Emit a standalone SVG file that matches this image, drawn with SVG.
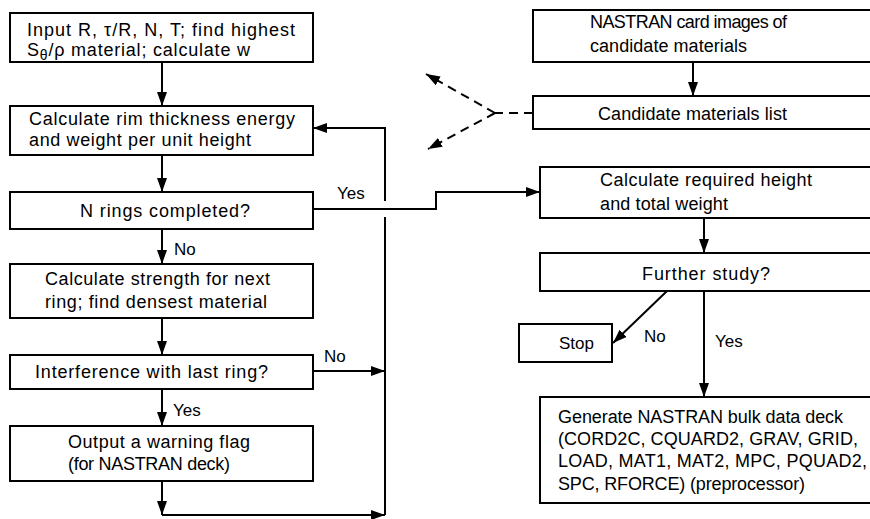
<svg xmlns="http://www.w3.org/2000/svg" width="870" height="519" viewBox="0 0 870 519">
<defs>
<marker id="ah" viewBox="0 0 14 10" refX="14" refY="5" markerWidth="14" markerHeight="10" markerUnits="userSpaceOnUse" orient="auto"><path d="M0,0 L14,5 L0,10 Z" fill="#000"/></marker>
<style>
.box{fill:#fff;stroke:#000;stroke-width:2}
.t{font-family:"Liberation Sans",Arial,sans-serif;font-size:18px;fill:#000}
.s{font-family:"Liberation Sans",Arial,sans-serif;font-size:17px;fill:#000}
.c{stroke:#000;stroke-width:2;fill:none}
.a{stroke:#000;stroke-width:2;fill:none;marker-end:url(#ah)}
.d{stroke:#000;stroke-width:2;fill:none;stroke-dasharray:9,6;marker-end:url(#ah)}
</style>
</defs>
<rect width="870" height="519" fill="#fff"/>
<g id="connectors">
<path class="a" d="M162,62 V106"/>
<path class="a" d="M162,155 V192"/>
<path class="a" d="M162,229 V264"/>
<path class="a" d="M162,318 V355"/>
<path class="a" d="M162,389 V426"/>
<path class="a" d="M162,481 V515"/>
<path class="a" d="M162,515 H385"/>
<path class="c" d="M385,515 V217"/>
<path class="a" d="M385,201 V128 H313"/>
<path class="a" d="M313,371 H385"/>
<path class="a" d="M313,209 H436 V192 H540"/>
<path class="a" d="M693,62 V96"/>
<path class="a" d="M704,218 V253"/>
<path class="a" d="M667,291 L613,343"/>
<path class="a" d="M704,291 V397"/>
<path class="c" d="M533,113 H495" stroke-dasharray="9,6"/>
<path class="d" d="M495,113 L426,74"/>
<path class="d" d="M495,113 L428,149"/>
<text class="s" x="337" y="199">Yes</text>
<text class="s" x="174" y="255">No</text>
<text class="s" x="324" y="362">No</text>
<text class="s" x="173" y="416">Yes</text>
<text class="s" x="644" y="342">No</text>
<text class="s" x="715" y="347">Yes</text>
</g>
<g id="n1"><rect class="box" x="10" y="13" width="303" height="49"/>
<text class="t" x="27" y="36" textLength="268">Input R, τ/R, N, T; find highest</text>
<text class="t" x="27" y="56" textLength="223">S<tspan font-size="14" dy="4">θ</tspan><tspan dy="-4">/ρ material; calculate w</tspan></text></g>
<g id="n2"><rect class="box" x="10" y="106" width="303" height="49"/>
<text class="t" x="29" y="125" textLength="266">Calculate rim thickness energy</text>
<text class="t" x="29" y="146" textLength="222">and weight per unit height</text></g>
<g id="n3"><rect class="box" x="10" y="192" width="303" height="37"/>
<text class="t" x="80" y="217" textLength="170">N rings completed?</text></g>
<g id="n4"><rect class="box" x="10" y="264" width="303" height="54"/>
<text class="t" x="45" y="285" textLength="225">Calculate strength for next</text>
<text class="t" x="45" y="308" textLength="222">ring; find densest material</text></g>
<g id="n5"><rect class="box" x="10" y="355" width="303" height="34"/>
<text class="t" x="35" y="378" textLength="233">Interference with last ring?</text></g>
<g id="n6"><rect class="box" x="10" y="426" width="303" height="55"/>
<text class="t" x="68" y="448" textLength="182">Output a warning flag</text>
<text class="t" x="68" y="470" textLength="162">(for NASTRAN deck)</text></g>
<g id="nA"><rect class="box" x="533" y="10" width="350" height="52"/>
<text class="t" x="590" y="28" textLength="197">NASTRAN card images of</text>
<text class="t" x="590" y="52" textLength="157">candidate materials</text></g>
<g id="nB"><rect class="box" x="533" y="96" width="350" height="33"/>
<text class="t" x="598" y="120" textLength="189">Candidate materials list</text></g>
<g id="nC"><rect class="box" x="540" y="167" width="350" height="51"/>
<text class="t" x="600" y="186" textLength="212">Calculate required height</text>
<text class="t" x="600" y="210" textLength="128">and total weight</text></g>
<g id="nD"><rect class="box" x="540" y="253" width="350" height="38"/>
<text class="t" x="642" y="280" textLength="128">Further study?</text></g>
<g id="nStop"><rect class="box" x="519" y="324" width="93" height="38"/>
<text class="s" x="559" y="349">Stop</text></g>
<g id="nE"><rect class="box" x="540" y="397" width="350" height="106"/>
<text class="t" x="558" y="423" textLength="285">Generate NASTRAN bulk data deck</text>
<text class="t" x="558" y="445" textLength="300">(CORD2C, CQUARD2, GRAV, GRID,</text>
<text class="t" x="558" y="467" textLength="309">LOAD, MAT1, MAT2, MPC, PQUAD2,</text>
<text class="t" x="558" y="490" textLength="247">SPC, RFORCE) (preprocessor)</text></g>
</svg>
